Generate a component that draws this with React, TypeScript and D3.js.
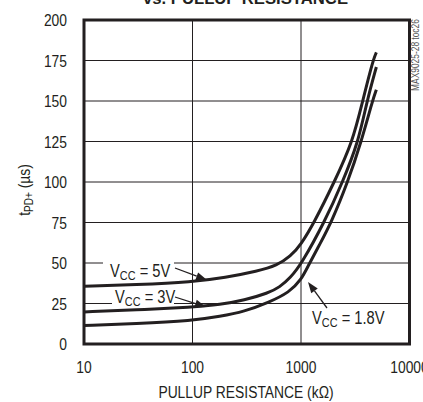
import React from "react";
import * as d3 from "d3";

const xTicks = [10, 100, 1000, 10000];
const yTicks = [0, 25, 50, 75, 100, 125, 150, 175, 200];

const r5V = [10, 30, 100, 200, 400, 600, 800, 1000, 1300, 2030, 3000, 3700, 4600, 4950];
const v5V = [35.6, 36.6, 38.3, 41, 45, 48.5, 54, 61.5, 74, 100, 125, 150, 175, 180];

const r3V = [10, 30, 100, 180, 300, 500, 635, 800, 1000, 1640, 2420, 3390, 4050, 4950];
const v3V = [19.8, 21, 22.8, 24.3, 27, 31.5, 35, 41, 49, 75, 100, 125, 150, 171];

const r18V = [10, 30, 100, 180, 300, 500, 785, 1000, 1160, 1500, 1900, 2700, 3600, 4550, 4950];
const v18V = [11.4, 12.5, 14.4, 17, 20, 25.5, 32, 39.5, 48, 62, 75, 100, 125, 150, 157];

const FONT = "'Liberation Sans', Arial, sans-serif";
const INK = "#231f20";
const SX = 0.84;

function T(props: {
  x: number;
  y: number;
  size?: number;
  anchor?: string;
  rotate?: number;
  sx?: number;
  fill?: string;
  weight?: string;
  children: React.ReactNode;
}) {
  const { x, y, size = 16.5, anchor = "start", rotate = 0, sx = SX, fill = INK, weight = "normal" } = props;
  return (
    <g transform={`translate(${x},${y}) rotate(${rotate}) scale(${sx},1)`}>
      <text x={0} y={0} fontSize={size} fontFamily={FONT} textAnchor={anchor} fill={fill} fontWeight={weight}>
        {props.children}
      </text>
    </g>
  );
}

export default function App() {
  const left = 84, right = 409.5, top = 20, bottom = 344;
  const x = d3.scaleLog().domain([10, 10000]).range([left, right]);
  const y = d3.scaleLinear().domain([0, 200]).range([bottom, top]);
  const line = d3
    .line<[number, number]>()
    .x((d) => x(d[0]))
    .y((d) => y(d[1]))
    .curve(d3.curveBasis);
  const series = [
    { r: r5V, v: v5V },
    { r: r3V, v: v3V },
    { r: r18V, v: v18V },
  ];

  const arrow = (x1: number, y1: number, x2: number, y2: number) => {
    const a = Math.atan2(y2 - y1, x2 - x1);
    const L = 11, W = 4;
    const bx = x2 - L * Math.cos(a), by = y2 - L * Math.sin(a);
    const p1 = [bx + W * Math.sin(a), by - W * Math.cos(a)];
    const p2 = [bx - W * Math.sin(a), by + W * Math.cos(a)];
    return (
      <g>
        <line x1={x1} y1={y1} x2={bx} y2={by} stroke={INK} strokeWidth={1.3} />
        <polygon points={`${x2},${y2} ${p1[0]},${p1[1]} ${p2[0]},${p2[1]}`} fill={INK} />
      </g>
    );
  };

  const vcc = (tx: number, ty: number, val: string) => (
    <T x={tx} y={ty} size={17.5}>
      V<tspan fontSize={13} dy={3}>CC</tspan>
      <tspan dy={-3}>{` = ${val}`}</tspan>
    </T>
  );

  return (
    <svg width={423} height={402} style={{ position: "absolute", left: 0, top: 0, background: "#fff" }}>
      <rect x={0} y={0} width={423} height={402} fill="#fff" />
      <text
        x={143}
        y={4}
        fontSize={16}
        fontWeight="bold"
        fontFamily={FONT}
        fill={INK}
        textLength={205}
        lengthAdjust="spacingAndGlyphs"
      >
        vs. PULLUP RESISTANCE
      </text>
      {/* grid */}
      {yTicks.slice(1, -1).map((t) => (
        <line key={"gy" + t} x1={left} x2={right} y1={y(t)} y2={y(t)} stroke={INK} strokeWidth={1} />
      ))}
      {xTicks.slice(1, -1).map((t) => (
        <line key={"gx" + t} x1={x(t)} x2={x(t)} y1={top} y2={bottom} stroke={INK} strokeWidth={1} />
      ))}
      {/* label backgrounds */}
      <rect x={103} y={258} width={71} height={22} fill="#fff" />
      <rect x={112} y={290} width={62} height={16} fill="#fff" />
      {/* curves */}
      {series.map((s, i) => (
        <path
          key={i}
          d={line(s.r.map((r, j) => [r, s.v[j]] as [number, number])) || ""}
          fill="none"
          stroke={INK}
          strokeWidth={3}
        />
      ))}
      {/* frame */}
      <rect x={left} y={top} width={right - left} height={bottom - top} fill="none" stroke={INK} strokeWidth={3} />
      {/* y ticks */}
      {yTicks.map((t) => (
        <T key={"yt" + t} x={67} y={y(t) + 6} anchor="end">
          {t}
        </T>
      ))}
      {xTicks.map((t) => (
        <T key={"xt" + t} x={x(t)} y={373} anchor="middle">
          {t}
        </T>
      ))}
      <T x={246} y={398} anchor="middle">
        PULLUP RESISTANCE (kΩ)
      </T>
      <T x={30} y={190} rotate={-90} anchor="middle">
        t<tspan fontSize={12} dy={3}>PD+</tspan>
        <tspan dy={-3}> (µs)</tspan>
      </T>
      <T x={419} y={55} rotate={-90} anchor="middle" size={10} fill="#555">
        MAX9025-28 toc26
      </T>
      {/* annotations */}
      {vcc(110, 277, "5V")}
      {arrow(175, 268, 207, 280)}
      {vcc(115, 303, "3V")}
      {arrow(175, 297, 206, 307)}
      {vcc(312, 324, "1.8V")}
      {arrow(327, 308, 308, 282)}
    </svg>
  );
}
